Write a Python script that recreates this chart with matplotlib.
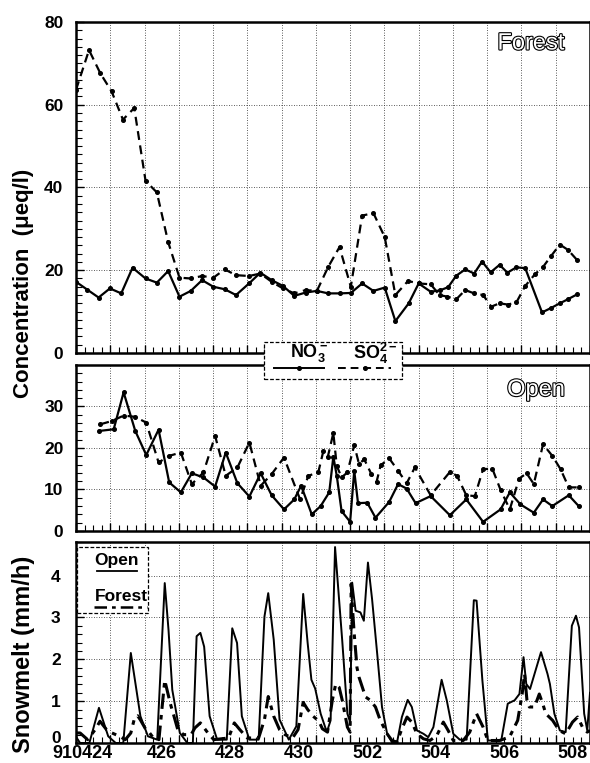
import matplotlib
matplotlib.use('Agg')
import matplotlib.pyplot as plt
import matplotlib.patheffects as pe
from matplotlib.lines import Line2D
from matplotlib.patches import Rectangle
from matplotlib.ticker import MultipleLocator
from matplotlib.transforms import ScaledTranslation

plt.rcParams['font.family'] = ['Liberation Sans', 'DejaVu Sans']
plt.rcParams['font.weight'] = 'bold'
plt.rcParams['mathtext.fontset'] = 'custom'
plt.rcParams['mathtext.rm'] = 'Liberation Sans'
plt.rcParams['mathtext.bf'] = 'Liberation Sans:bold'

# time axis: days after 910424 00:00
day_labels = ['910424', '426', '428', '430', '502', '504', '506', '508']
day_label_pos = [0.2, 2.5, 4.5, 6.5, 8.5, 10.5, 12.5, 14.5]

# Forest concentrations (ueq/l)
forest_no3_t = [0, 0.33, 0.66, 0.99, 1.32, 1.65, 2.03, 2.36, 2.69, 3.02, 3.35, 3.68, 4.01, 4.34,
                4.67, 5.05, 5.38, 5.71, 6.04, 6.37, 6.70, 7.03, 7.36, 7.69, 8.02, 8.35, 8.68,
                9.01, 9.32, 9.71, 10.0, 10.35, 10.61, 10.86, 11.1, 11.36, 11.62, 11.85, 12.1,
                12.36, 12.59, 12.85, 13.11, 13.6, 13.87, 14.12, 14.36, 14.63]
forest_no3 = [17.2, 15.3, 13.4, 15.6, 14.4, 20.6, 18.0, 17.0, 19.8, 13.6, 15.0, 17.6, 16.0, 15.4,
              14.0, 16.8, 19.4, 17.6, 16.2, 13.8, 14.6, 15.0, 14.4, 14.4, 14.5, 16.8, 15.0,
              15.8, 7.7, 12.0, 16.8, 14.8, 15.1, 15.9, 18.7, 20.2, 19.2, 22.1, 19.5,
              21.3, 19.4, 20.7, 20.5, 9.8, 10.9, 12.0, 13.0, 14.2]
forest_so4_t = [0, 0.38, 0.71, 1.04, 1.37, 1.70, 2.03, 2.36, 2.69, 3.02, 3.35, 3.68, 4.01, 4.34,
                4.67, 5.05, 5.38, 5.71, 6.04, 6.37, 6.70, 7.03, 7.36, 7.69, 8.02, 8.35, 8.68,
                9.01, 9.32, 9.69, 10.0, 10.35, 10.61, 10.84, 11.1, 11.36, 11.62, 11.88, 12.12,
                12.36, 12.6, 12.85, 13.11, 13.39, 13.63, 13.87, 14.12, 14.36, 14.63]
forest_so4 = [63.6, 73.2, 67.6, 63.2, 56.4, 59.2, 41.6, 38.8, 26.8, 18.2, 18.0, 18.6, 18.2, 20.2,
              18.8, 18.6, 19.2, 17.2, 15.6, 14.4, 15.2, 15.0, 20.8, 25.6, 16.0, 33.2, 33.8,
              28.0, 14.0, 17.4, 16.8, 16.6, 14.0, 13.6, 13.0, 15.2, 14.4, 14.0, 11.2,
              12.0, 11.7, 12.2, 16.2, 19.0, 20.8, 23.5, 26.2, 24.9, 22.4]

# Open concentrations (ueq/l)
open_no3_t = [0.68, 1.10, 1.39, 1.73, 2.05, 2.41, 2.72, 3.06, 3.38, 3.72, 4.06, 4.37, 4.71, 5.06,
              5.39, 5.71, 6.07, 6.37, 6.57, 6.88, 7.14, 7.39, 7.51, 7.61, 7.75, 8.00, 8.12,
              8.23, 8.50, 8.74, 9.14, 9.40, 9.65, 9.91, 10.35, 10.91, 11.39, 11.88, 12.39,
              12.66, 12.97, 13.36, 13.63, 13.90, 14.38, 14.67]
open_no3 = [24.1, 24.5, 33.4, 24.1, 18.3, 24.4, 11.7, 9.3, 13.9, 12.9, 10.7, 18.9, 11.5, 8.3,
            13.9, 8.6, 5.2, 7.6, 10.9, 4.0, 6.0, 9.3, 17.9, 13.3, 4.8, 2.2, 14.5,
            6.7, 6.8, 3.2, 7.0, 11.3, 10.2, 6.7, 8.4, 3.8, 7.6, 2.2, 5.2,
            9.3, 6.4, 4.4, 7.6, 6.0, 8.6, 6.0]
open_so4_t = [0.71, 1.05, 1.39, 1.73, 2.05, 2.41, 2.72, 3.06, 3.38, 3.72, 4.06, 4.37, 4.71, 5.06,
              5.39, 5.71, 6.07, 6.54, 6.78, 7.07, 7.22, 7.35, 7.51, 7.61, 7.75, 7.92, 8.12,
              8.26, 8.41, 8.62, 8.77, 8.89, 9.14, 9.40, 9.65, 9.89, 10.35, 10.91, 11.12,
              11.39, 11.64, 11.88, 12.15, 12.39, 12.66, 12.93, 13.15, 13.36, 13.63, 13.90,
              14.14, 14.38, 14.67]
open_so4 = [25.7, 26.5, 27.8, 27.5, 26.1, 16.5, 18.1, 18.9, 11.3, 14.1, 22.9, 13.3, 15.3, 21.3,
            10.9, 13.7, 17.7, 7.6, 13.3, 14.1, 19.3, 17.9, 23.6, 15.7, 12.9, 14.1, 20.7,
            16.1, 17.3, 13.7, 11.8, 15.8, 17.5, 14.5, 11.5, 15.3, 8.6, 14.2, 13.3,
            8.6, 8.4, 14.9, 15.0, 9.9, 5.2, 12.6, 13.9, 11.3, 20.9, 18.1,
            14.9, 10.5, 10.5]

# Snowmelt (mm/h)
melt_open_t = [0, 0.12, 0.39, 0.67, 0.94, 1.16, 1.38, 1.6, 1.88, 2.1, 2.37, 2.59, 2.7, 2.81,
               3.03, 3.25, 3.41, 3.52, 3.63, 3.74, 3.9, 4.12, 4.4, 4.56, 4.7, 4.84, 5.06,
               5.33, 5.5, 5.61, 5.77, 5.94, 6.21, 6.43, 6.63, 6.76, 6.87, 6.98, 7.14, 7.32,
               7.43, 7.56, 7.77, 7.92, 8.0, 8.06, 8.16, 8.3, 8.4, 8.52, 8.64, 8.79, 8.93,
               9.08, 9.22, 9.37, 9.51, 9.68, 9.8, 9.95, 10.14, 10.28, 10.43, 10.67, 10.82,
               11.01, 11.2, 11.4, 11.61, 11.69, 11.86, 12.02, 12.17, 12.41, 12.6, 12.8,
               12.94, 13.06, 13.14, 13.25, 13.57, 13.76, 13.83, 13.96, 14.12, 14.29, 14.47,
               14.59, 14.68, 14.83, 14.92, 15.0]
melt_open = [0.15, 0.0, 0.0, 0.84, 0.16, 0.0, 0.0, 2.15, 0.64, 0.16, 0.08, 3.82, 2.7, 1.27,
             0.24, 0.0, 0.0, 2.55, 2.63, 2.3, 0.64, 0.08, 0.08, 2.74, 2.39, 0.64, 0.08,
             0.08, 3.02, 3.58, 2.47, 0.56, 0.08, 0.4, 3.56, 2.39, 1.51, 1.3, 0.7, 0.26,
             0.54, 4.68, 2.44, 0.7, 0.5, 3.83, 3.16, 3.12, 2.92, 4.31, 3.44, 2.13, 0.86,
             0.22, 0.02, 0.02, 0.62, 1.03, 0.86, 0.3, 0.22, 0.14, 0.38, 1.51, 1.02,
             0.22, 0.08, 0.08, 3.41, 3.40, 1.49, 0.06, 0.06, 0.06, 0.94, 1.02,
             1.17, 2.05, 1.41, 1.29, 2.17, 1.65, 1.41, 0.7, 0.3, 0.26, 2.8,
             3.04, 2.76, 0.7, 0.3, 1.2]
melt_forest_t = [0, 0.12, 0.34, 0.56, 0.7, 0.89, 1.05, 1.27, 1.44, 1.6, 1.71, 1.8, 1.88, 2.04,
                 2.15, 2.26, 2.42, 2.59, 2.75, 2.86, 2.97, 3.14, 3.36, 3.47, 3.63, 3.85, 4.02,
                 4.45, 4.62, 4.78, 5.0, 5.33, 5.5, 5.61, 5.77, 5.94, 6.1, 6.32, 6.48, 6.63,
                 6.76, 6.92, 7.09, 7.19, 7.34, 7.48, 7.58, 7.68, 7.77, 7.92, 8.0, 8.03, 8.07,
                 8.12, 8.2, 8.26, 8.45, 8.59, 8.74, 8.88, 9.08, 9.22, 9.37, 9.51, 9.66, 9.8,
                 9.95, 10.14, 10.33, 10.53, 10.72, 10.86, 11.01, 11.3, 11.49, 11.69, 11.88,
                 12.02, 12.36, 12.65, 12.89, 13.02, 13.09, 13.16, 13.23, 13.38, 13.52, 13.62,
                 13.71, 13.91, 14.1, 14.29, 14.49, 14.64, 14.78, 14.92, 15.0]
melt_forest = [0.24, 0.24, 0.08, 0.32, 0.52, 0.32, 0.24, 0.16, 0.08, 0.24, 0.6, 0.65, 0.55, 0.32,
               0.24, 0.12, 0.08, 1.5, 0.95, 0.64, 0.32, 0.2, 0.2, 0.36, 0.48, 0.24, 0.08,
               0.12, 0.48, 0.32, 0.12, 0.12, 0.56, 1.11, 0.64, 0.32, 0.2, 0.12, 0.32, 0.97,
               0.8, 0.64, 0.52, 0.34, 0.26, 1.02, 1.41, 1.33, 1.02, 0.38, 0.26, 3.8, 3.2,
               2.6, 1.8, 1.57, 1.1, 1.02, 0.86, 0.54, 0.22, 0.06, 0.02, 0.34, 0.62, 0.5,
               0.22, 0.1, 0.06, 0.18, 0.5, 0.3, 0.06, 0.06, 0.26, 0.7, 0.38,
               0.06, 0.06, 0.14, 0.54, 1.17, 1.65, 1.02, 0.86, 0.86, 1.17, 0.94,
               0.7, 0.54, 0.3, 0.22, 0.5, 0.62, 0.38, 0.26, 0.3]

DASH = (0, (4, 2.5))
DASHDOT = (0, (5, 2, 1.5, 2))

fig = plt.figure(figsize=(5.9, 7.63), dpi=100)
ax_top = fig.add_axes([0.1288, 0.5374, 0.8712, 0.4338])
ax_mid = fig.add_axes([0.1288, 0.3041, 0.8712, 0.2176])
ax_bot = fig.add_axes([0.1288, 0.0262, 0.8712, 0.2634])


def style_axis(ax, ymax, ymajor, yminor, yticks):
    ax.set_xlim(0, 15)
    ax.set_ylim(0, ymax)
    ax.xaxis.set_major_locator(MultipleLocator(1))
    ax.xaxis.set_minor_locator(MultipleLocator(0.25))
    ax.set_xticklabels([])
    ax.yaxis.set_major_locator(MultipleLocator(ymajor))
    ax.yaxis.set_minor_locator(MultipleLocator(yminor))
    ax.set_yticks(yticks)
    ax.set_yticklabels([str(v) for v in yticks])
    ax.tick_params(which='both', direction='in', top=False, right=False)
    ax.tick_params(which='major', length=6, width=1.0, labelsize=12.5, pad=9)
    ax.tick_params(which='minor', length=4, width=0.8)
    ax.grid(True, which='major', linestyle=(0, (1, 2)), color='0.15', linewidth=0.6)
    for s in ax.spines.values():
        s.set_linewidth(1.8)
    for lab in ax.get_yticklabels():
        lab.set_fontweight('bold')


def outlined(ax, x, y, txt):
    ax.text(x, y, txt, transform=ax.transAxes, ha='center', va='center', fontsize=17,
            color='white', fontweight='normal',
            path_effects=[pe.withStroke(linewidth=1.6, foreground='black')])


# top panel: forest
style_axis(ax_top, 80, 20, 2, [0, 20, 40, 60, 80])
ax_top.plot(forest_no3_t, forest_no3, color='black', lw=1.6, marker='o', ms=2.6)
ax_top.plot(forest_so4_t, forest_so4, color='black', lw=1.6, ls=DASH, marker='o', ms=2.6)
outlined(ax_top, 0.885, 0.935, 'Forest')

# middle panel: open
style_axis(ax_mid, 40, 10, 2, [0, 10, 20, 30])
ax_mid.plot(open_no3_t, open_no3, color='black', lw=1.6, marker='o', ms=2.6)
ax_mid.plot(open_so4_t, open_so4, color='black', lw=1.6, ls=DASH, marker='o', ms=2.6)
outlined(ax_mid, 0.895, 0.85, 'Open')

# bottom panel: snowmelt
style_axis(ax_bot, 4.8, 1, 0.2, [0, 1, 2, 3, 4])
ax_bot.plot(melt_open_t, melt_open, color='black', lw=1.4)
ax_bot.plot(melt_forest_t, melt_forest, color='black', lw=2.2, ls=DASHDOT)
ax_bot.tick_params(axis='y', pad=11)
# the "0" sits just above the date labels, as in the original
zero_lab = ax_bot.get_yticklabels()[0]
zero_lab.set_transform(zero_lab.get_transform() + ScaledTranslation(0, 4 / 72, fig.dpi_scale_trans))
for pos, lab in zip(day_label_pos, day_labels):
    ax_bot.text(pos, -0.012, lab, transform=ax_bot.get_xaxis_transform(), ha='center',
                va='top', fontsize=13, fontweight='bold')

# axis titles
fig.text(0.04, 0.629, 'Concentration  (\u03bceq/l)', rotation=90, ha='center', va='center',
         fontsize=16, fontweight='bold')
fig.text(0.04, 0.143, 'Snowmelt (mm/h)', rotation=90, ha='center', va='center',
         fontsize=17, fontweight='bold')

# legend for concentrations (sits across the top and middle panels)
fig.add_artist(Rectangle((0.4475, 0.5033), 0.2339, 0.0485, transform=fig.transFigure,
                         facecolor='white', edgecolor='black', lw=0.9, ls=(0, (3, 1.5)),
                         zorder=5))
fig.text(0.525, 0.537, r'$\mathbf{NO_3^-}$', ha='center', va='center', fontsize=13, zorder=6)
fig.text(0.637, 0.537, r'$\mathbf{SO_4^{2-}}$', ha='center', va='center', fontsize=13, zorder=6)
fig.add_artist(Line2D([0.464, 0.549], [0.5177, 0.5177], transform=fig.transFigure,
                      color='black', lw=1.4, zorder=6))
fig.add_artist(Line2D([0.5065], [0.5177], transform=fig.transFigure, color='black',
                      marker='o', ms=2.6, zorder=6))
fig.add_artist(Line2D([0.573, 0.663], [0.5177, 0.5177], transform=fig.transFigure,
                      color='black', lw=1.4, ls=DASH, zorder=6))
fig.add_artist(Line2D([0.618], [0.5177], transform=fig.transFigure, color='black',
                      marker='o', ms=2.6, zorder=6))

# legend for snowmelt
fig.add_artist(Rectangle((0.1305, 0.1966), 0.1203, 0.0865, transform=fig.transFigure,
                         facecolor='white', edgecolor='black', lw=0.9, ls=(0, (3, 1.5)),
                         zorder=5))
fig.text(0.198, 0.266, 'Open', ha='center', va='center', fontsize=12.5, fontweight='bold',
         zorder=6)
fig.add_artist(Line2D([0.164, 0.232], [0.2516, 0.2516], transform=fig.transFigure,
                      color='black', lw=1.3, zorder=6))
fig.text(0.205, 0.2176, 'Forest', ha='center', va='center', fontsize=12.5, fontweight='bold',
         zorder=6)
fig.add_artist(Line2D([0.159, 0.249], [0.2045, 0.2045], transform=fig.transFigure,
                      color='black', lw=1.8, ls=DASHDOT, zorder=6))

fig.savefig('out.png', dpi=100)
